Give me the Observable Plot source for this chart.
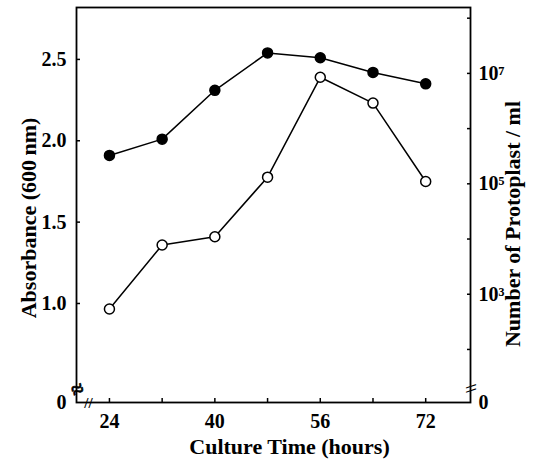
<!DOCTYPE html>
<html>
<head>
<meta charset="utf-8">
<script src="https://cdn.jsdelivr.net/npm/d3@7"></script>
<script src="https://cdn.jsdelivr.net/npm/@observablehq/plot@0.6"></script>
<style>
  html, body { margin: 0; padding: 0; background: #fff; }
  #chart svg { display: block; }
</style>
</head>
<body>
<div id="chart"></div>
<script>
// ---- Data ----
const hours       = [24, 32, 40, 48, 56, 64, 72];
const absorbance  = [1.91, 2.01, 2.31, 2.54, 2.51, 2.42, 2.35];      // filled circles, left axis
const protoplasts = [540, 7800, 11000, 132000, 8.5e6, 2.9e6, 1.1e5]; // open circles, right axis (log)

const xTicks        = [24, 32, 40, 48, 56, 64, 72];
const xTickLabels   = [24, 40, 56, 72];
const leftTicks     = [1.0, 1.5, 2.0, 2.5];
const rightMajor    = [1e3, 1e5, 1e7];
const rightMinor    = [1e2, 1e4, 1e6, 1e8];

const xTitle = "Culture Time (hours)";
const yLeftTitle = "Absorbance (600\u2009nm)";
const yRightTitle = "Number of Protoplast / ml";

// broken axis: the bottom of the (cut) scale is labelled "0"
const yBottom = 0.3915, yTop = 2.819;

// ---- Map the log protoplast axis onto the shared (absorbance) y scale ----
const ref7 = 2.414, perDecade = 0.3393;
const toLeft = n => ref7 + (Math.log10(n) - 7) * perDecade;
const supDigits = {"0":"⁰","1":"¹","2":"²","3":"³","4":"⁴","5":"⁵","6":"⁶","7":"⁷","8":"⁸","9":"⁹"};
const powLabel = n => "10" + String(Math.round(Math.log10(n))).split("").map(c => supDigits[c]).join("");

const absData = hours.map((h, i) => ({h, v: absorbance[i]}));
const protoData = hours.map((h, i) => ({h, v: toLeft(protoplasts[i])}));
const rightTickVals = [...rightMinor, ...rightMajor].map(toLeft);
const rightLabelData = [...rightMajor.map(n => ({y: toLeft(n), t: powLabel(n)})), {y: yBottom, t: "0"}];
const leftLabelData = [{y: yBottom, t: "0"}, ...leftTicks.map(v => ({y: v, t: d3.format(".1f")(v)}))];

const W = 547, H = 463;
const mL = 76, mR = 77, mT = 7, mB = 61;

const chart = Plot.plot({
  width: W, height: H,
  marginLeft: mL, marginRight: mR, marginTop: mT, marginBottom: mB,
  style: {fontFamily: "'Liberation Serif', 'Times New Roman', serif", fontWeight: "bold", fontSize: "20px", color: "#000", background: "#fff"},
  x: {domain: [19, 78.8], label: null},
  y: {domain: [yBottom, yTop], label: null},
  marks: [
    Plot.frame({stroke: "#000", strokeWidth: 1.8}),
    // bottom ticks (inward) and labels
    Plot.axisX(xTicks, {anchor: "bottom", tickSize: -4, strokeWidth: 1.5, text: null, label: null}),
    Plot.axisX(xTickLabels, {anchor: "bottom", tickSize: 0, tickPadding: 11, fontSize: 20, label: null, tickFormat: d => String(d)}),
    // left ticks (inward) and labels
    Plot.axisY(leftTicks, {anchor: "left", tickSize: -4, strokeWidth: 1.5, text: null, label: null}),
    Plot.text(leftLabelData, {y: "y", text: "t", frameAnchor: "left", dx: -10, textAnchor: "end", fontSize: 20, fill: "#000"}),
    // right ticks (inward) and labels
    Plot.axisY(rightTickVals, {anchor: "right", tickSize: -4, strokeWidth: 1.5, text: null, label: null}),
    Plot.text(rightLabelData, {y: "y", text: "t", frameAnchor: "right", dx: 8, textAnchor: "start", fontSize: 20, fill: "#000"}),
    // axis break marks
    Plot.text(["≈"], {frameAnchor: "bottom-left", dy: -13, dx: 1, rotate: -25, textAnchor: "middle", lineAnchor: "middle", fontSize: 22, fontWeight: "bold", fill: "#000", stroke: "#000", strokeWidth: 0.6}),
    Plot.text(["//"], {frameAnchor: "bottom-left", dx: 12, dy: 1, textAnchor: "middle", lineAnchor: "middle", fontSize: 15, fill: "#000"}),
    Plot.text(["\\\\"], {frameAnchor: "bottom-right", dx: 0, dy: -14, rotate: 90, textAnchor: "middle", lineAnchor: "middle", fontSize: 15, fill: "#000"}),
    // series
    Plot.line(absData, {x: "h", y: "v", stroke: "#000", strokeWidth: 1.5}),
    Plot.dot(absData, {x: "h", y: "v", r: 5, fill: "#000", stroke: "#000"}),
    Plot.line(protoData, {x: "h", y: "v", stroke: "#000", strokeWidth: 1.5}),
    Plot.dot(protoData, {x: "h", y: "v", r: 5, fill: "#fff", stroke: "#000", strokeWidth: 1.5}),
    // axis titles
    Plot.text([xTitle], {frameAnchor: "bottom", dx: 16, dy: 44, textAnchor: "middle", lineAnchor: "middle", fontSize: 22, fill: "#000"}),
    Plot.text([yLeftTitle], {frameAnchor: "left", dx: -48, dy: 13, rotate: -90, textAnchor: "middle", lineAnchor: "middle", fontSize: 22, fill: "#000"}),
    Plot.text([yRightTitle], {frameAnchor: "right", dx: 42, dy: 19, rotate: -90, textAnchor: "middle", lineAnchor: "middle", fontSize: 22, fill: "#000"})
  ]
});
document.getElementById("chart").appendChild(chart);
</script>
</body>
</html>
